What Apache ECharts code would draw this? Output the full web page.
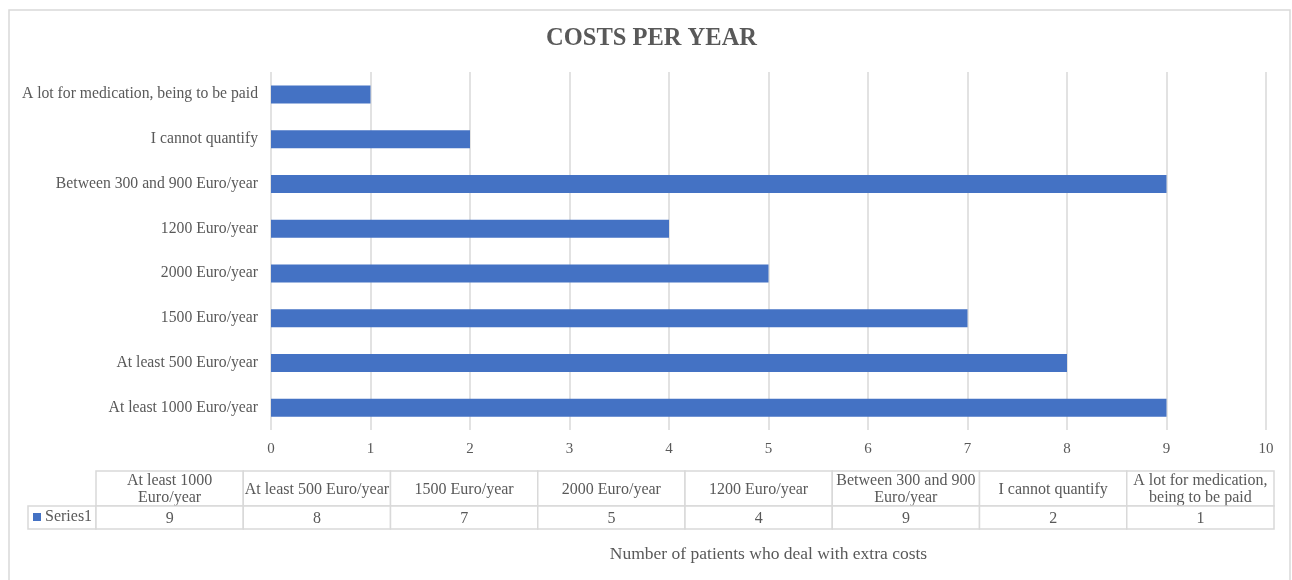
<!DOCTYPE html>
<html>
<head>
<meta charset="utf-8">
<title>Costs per year</title>
<script src="https://cdn.jsdelivr.net/npm/echarts@6/dist/echarts.min.js"></script>
<style>
  html, body { margin: 0; padding: 0; background: #ffffff; }
  #chart { width: 1292px; height: 580px; }
</style>
</head>
<body>
<div id="chart"></div>
<script>
// Answer categories, listed bottom-to-top on the bar axis and left-to-right in the table
const categories = [
  'At least 1000 Euro/year',
  'At least 500 Euro/year',
  '1500 Euro/year',
  '2000 Euro/year',
  '1200 Euro/year',
  'Between 300 and 900 Euro/year',
  'I cannot quantify',
  'A lot for medication, being to be paid'
];
// Number of patients for each category
const patients = [9, 8, 7, 5, 4, 9, 2, 1];
const seriesName = 'Series1';
const xTicks = [0, 1, 2, 3, 4, 5, 6, 7, 8, 9, 10];

const FONT = '"Liberation Serif", "Times New Roman", serif';
const CELL_FONT = '16px ' + FONT;
const TEXT = '#595959';
const RULE = '#d9d9d9';
const BAR = '#4472C4';

// Word wrap at spaces only, so "Euro/year" stays together
const measureCtx = document.createElement('canvas').getContext('2d');
function wrapWords(text, maxWidth) {
  measureCtx.font = CELL_FONT;
  const words = text.split(' ');
  const lines = [];
  let line = '';
  words.forEach(function (word) {
    const trial = line ? line + ' ' + word : word;
    if (line && measureCtx.measureText(trial).width > maxWidth) {
      lines.push(line);
      line = word;
    } else {
      line = trial;
    }
  });
  if (line) lines.push(line);
  return lines.join('\n');
}

// Draws one row of the data table: a bordered cell per category with centred text
function tableRow(texts) {
  return function (params, api) {
    const i = api.value(0);
    const cs = params.coordSys;
    const cx = api.coord([i, 0])[0];
    const w = api.size([1, 0])[0];
    return {
      type: 'group',
      children: [
        {
          type: 'rect',
          shape: { x: cx - w / 2, y: cs.y, width: w, height: cs.height },
          style: { fill: '#ffffff', stroke: RULE, lineWidth: 1.5 }
        },
        {
          type: 'text',
          x: cx,
          y: cs.y + cs.height / 2 + 1,
          style: {
            text: wrapWords(texts[params.dataIndex], w - 2),
            align: 'center',
            verticalAlign: 'middle',
            lineHeight: 17,
            font: CELL_FONT,
            fill: TEXT
          }
        }
      ]
    };
  };
}

const columnIdx = categories.map((c, i) => [i, 0]);

const option = {
  backgroundColor: '#ffffff',
  animation: false,
  title: {
    text: 'COSTS PER YEAR',
    left: 541,
    top: 21,
    textStyle: { fontFamily: FONT, fontSize: 24.5, fontWeight: 'bold', color: TEXT }
  },
  legend: {
    data: [seriesName],
    left: 33,
    top: 509,
    icon: 'rect',
    itemWidth: 8,
    itemHeight: 8,
    itemGap: 4,
    padding: 0,
    textStyle: { fontFamily: FONT, fontSize: 16, color: TEXT, padding: [0, 0, 0, -1] },
    selectedMode: false
  },
  graphic: [
    {
      type: 'rect',
      shape: { x: 9, y: 10, width: 1281, height: 590 },
      style: { fill: 'none', stroke: RULE, lineWidth: 1.5 },
      silent: true
    },
    {
      type: 'rect',
      shape: { x: 28, y: 506, width: 68, height: 23 },
      style: { fill: 'none', stroke: RULE, lineWidth: 1.5 },
      silent: true,
      z: -1
    }
  ],
  grid: [
    { left: 271, right: 26, top: 72, height: 358 },
    { left: 96, right: 18, top: 471, height: 35 },
    { left: 96, right: 18, top: 506, height: 23 }
  ],
  xAxis: [
    {
      gridIndex: 0,
      type: 'value',
      min: xTicks[0],
      max: xTicks[xTicks.length - 1],
      interval: 1,
      axisLine: { show: false },
      axisTick: { show: false },
      splitLine: { show: true, lineStyle: { color: RULE, width: 1.5 } },
      axisLabel: { margin: 12, fontFamily: FONT, fontSize: 15, color: TEXT },
      name: 'Number of patients who deal with extra costs',
      nameLocation: 'middle',
      nameGap: 115,
      nameTextStyle: { fontFamily: FONT, fontSize: 17.5, color: TEXT }
    },
    { gridIndex: 1, type: 'category', data: categories, show: false },
    { gridIndex: 2, type: 'category', data: categories, show: false }
  ],
  yAxis: [
    {
      gridIndex: 0,
      type: 'category',
      data: categories,
      axisLine: { show: false },
      axisTick: { show: false },
      axisLabel: { margin: 13, fontFamily: FONT, fontSize: 15.7, color: TEXT }
    },
    { gridIndex: 1, type: 'value', min: 0, max: 1, show: false },
    { gridIndex: 2, type: 'value', min: 0, max: 1, show: false }
  ],
  series: [
    {
      name: seriesName,
      type: 'bar',
      xAxisIndex: 0,
      yAxisIndex: 0,
      data: patients,
      barWidth: 18,
      itemStyle: { color: BAR }
    },
    {
      type: 'custom',
      xAxisIndex: 1,
      yAxisIndex: 1,
      data: columnIdx,
      renderItem: tableRow(categories),
      silent: true
    },
    {
      type: 'custom',
      xAxisIndex: 2,
      yAxisIndex: 2,
      data: columnIdx,
      renderItem: tableRow(patients.map(String)),
      silent: true
    }
  ]
};

const chart = echarts.init(document.getElementById('chart'), null, { renderer: 'canvas' });
chart.setOption(option);
</script>
</body>
</html>
